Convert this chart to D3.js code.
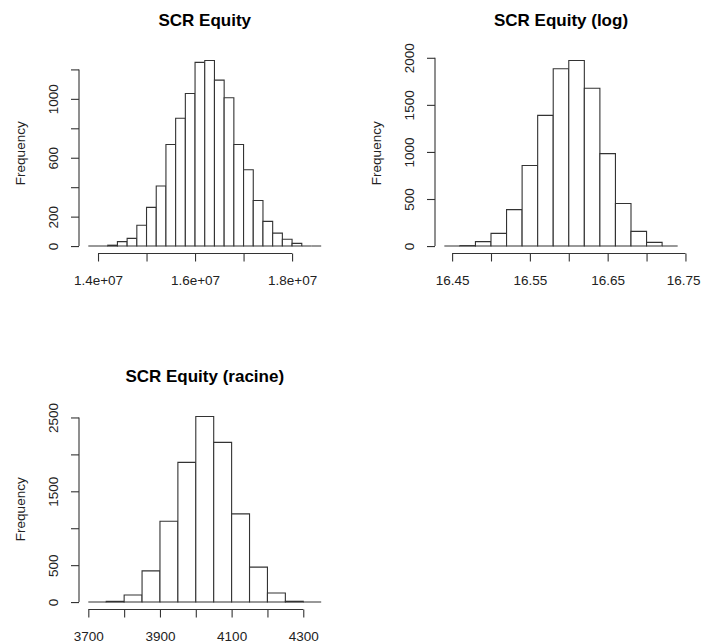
<!DOCTYPE html>
<html>
<head>
<meta charset="utf-8">
<script src="https://cdn.jsdelivr.net/npm/d3@7"></script>
<style>
  html, body { margin: 0; padding: 0; background: #fff; }
  svg { display: block; font-family: "Liberation Sans", Arial, sans-serif; }
</style>
</head>
<body>
<svg id="chart" width="701" height="643"></svg>
<script>
// Histogram of SCR Equity (raw values): breaks every 2e5
const rawBreakStart = 1.38e7;
const rawBreakStep = 2e5;
const rawCounts = [0, 0, 6, 30, 52, 141, 263, 408, 690, 868, 1036, 1248, 1261, 1127, 1007, 690, 518, 310, 168, 88, 46, 18, 0, 0];
const rawTicks = [1.4e7, 1.5e7, 1.6e7, 1.7e7, 1.8e7];
const rawTickLabels = ["1.4e+07", "", "1.6e+07", "", "1.8e+07"];
const rawYTicks = [0, 200, 400, 600, 800, 1000, 1200];
const rawYTickLabels = ["0", "200", "", "600", "", "1000", ""];

// Histogram of log(SCR Equity): breaks every 0.02
const logBreakStart = 16.44;
const logBreakStep = 0.02;
const logCounts = [0, 5, 47, 135, 387, 856, 1388, 1883, 1972, 1677, 982, 452, 156, 39, 0];
const logTicks = [16.45, 16.50, 16.55, 16.60, 16.65, 16.70, 16.75];
const logTickLabels = ["16.45", "", "16.55", "", "16.65", "", "16.75"];
const logYTicks = [0, 500, 1000, 1500, 2000];
const logYTickLabels = ["0", "500", "1000", "1500", "2000"];

// Histogram of sqrt(SCR Equity): breaks every 50
const sqrtBreakStart = 3700;
const sqrtBreakStep = 50;
const sqrtCounts = [0, 10, 95, 423, 1095, 1892, 2514, 2162, 1194, 473, 122, 11, 0];
const sqrtTicks = [3700, 3800, 3900, 4000, 4100, 4200, 4300];
const sqrtTickLabels = ["3700", "", "3900", "", "4100", "", "4300"];
const sqrtYTicks = [0, 500, 1000, 1500, 2000, 2500];
const sqrtYTickLabels = ["0", "500", "", "1500", "", "2500"];

const titles = ["SCR Equity", "SCR Equity (log)", "SCR Equity (racine)"];
const yTitle = "Frequency";

const svg = d3.select("#chart");
const svgWidth = +svg.attr("width");
const lineInk = "#333";
const textInk = "#222";
const tickFont = "13.5px";

// plot regions of the 2x2 grid (fourth cell stays empty)
const panels = [
  { x: 79,  y: 53,  w: 251.5, h: 200.5 },
  { x: 435, y: 53,  w: 252,   h: 200.5 },
  { x: 79,  y: 409, w: 251.5, h: 200.5 }
];

function histogram(panel, title, breakStart, breakStep, counts,
                   xTicks, xTickLabels, yTicks, yTickLabels) {
  const bins = counts.map((c, i) => ({
    x0: breakStart + i * breakStep,
    x1: breakStart + (i + 1) * breakStep,
    count: c
  }));
  const xMin = bins[0].x0, xMax = bins[bins.length - 1].x1;
  const yMax = d3.max(counts);
  // 4% padding on each side of the data range
  const xPad = (xMax - xMin) * 0.04, yPad = yMax * 0.04;

  const x = d3.scaleLinear()
    .domain([xMin - xPad, xMax + xPad])
    .range([panel.x, panel.x + panel.w]);
  const y = d3.scaleLinear()
    .domain([-yPad, yMax + yPad])
    .range([panel.y + panel.h, panel.y]);

  const g = svg.append("g");

  // bars (zero-count bins collapse to a flat line on the baseline)
  g.append("g").selectAll("path")
    .data(bins)
    .join("path")
    .attr("d", d => {
      const a = x(d.x0), b = x(d.x1), y0 = y(0), y1 = y(d.count);
      return `M${a},${y0}V${y1}H${b}V${y0}Z`;
    })
    .attr("fill", "#fff")
    .attr("stroke", lineInk)
    .attr("stroke-width", 1.1);

  // x axis at the bottom edge of the plot region
  const xAxisY = panel.y + panel.h;
  const xAxis = g.append("g")
    .attr("transform", `translate(0,${xAxisY})`)
    .call(d3.axisBottom(x)
      .tickValues(xTicks)
      .tickSize(8)
      .tickSizeOuter(0)
      .tickFormat((d, i) => xTickLabels[i]));
  xAxis.select(".domain").remove();
  xAxis.append("line")
    .attr("x1", x(xTicks[0])).attr("x2", x(xTicks[xTicks.length - 1]))
    .attr("stroke", lineInk).attr("stroke-width", 1.1);
  xAxis.selectAll(".tick line").attr("stroke", lineInk).attr("stroke-width", 1.1);
  xAxis.selectAll(".tick text")
    .attr("y", 31).attr("dy", 0)
    .attr("fill", textInk)
    .style("font-size", tickFont)
    .style("font-family", "Liberation Sans, Arial, sans-serif")
    .each(function(d) {
      // keep a label near the right edge inside the drawing
      const box = this.getBBox();
      const right = x(d) + box.x + box.width;
      if (right > svgWidth - 1) d3.select(this).attr("dx", svgWidth - 1 - right);
    });

  // y axis on the left edge, labels rotated parallel to the axis
  const yAxis = g.append("g")
    .attr("transform", `translate(${panel.x},0)`)
    .call(d3.axisLeft(y)
      .tickValues(yTicks)
      .tickSize(8)
      .tickSizeOuter(0)
      .tickFormat((d, i) => yTickLabels[i]));
  yAxis.select(".domain").remove();
  yAxis.append("line")
    .attr("y1", y(yTicks[0])).attr("y2", y(yTicks[yTicks.length - 1]))
    .attr("stroke", lineInk).attr("stroke-width", 1.1);
  yAxis.selectAll(".tick line").attr("stroke", lineInk).attr("stroke-width", 1.1);
  yAxis.selectAll(".tick text")
    .attr("transform", "rotate(-90)")
    .attr("x", 0).attr("y", -21).attr("dy", 0)
    .attr("text-anchor", "middle")
    .attr("fill", textInk)
    .style("font-size", tickFont)
    .style("font-family", "Liberation Sans, Arial, sans-serif");

  // axis title
  g.append("text")
    .attr("transform", `translate(${panel.x - 54},${panel.y + panel.h / 2}) rotate(-90)`)
    .attr("text-anchor", "middle")
    .attr("fill", textInk)
    .style("font-size", tickFont)
    .text(yTitle);

  // main title
  g.append("text")
    .attr("x", panel.x + panel.w / 2)
    .attr("y", panel.y - 27)
    .attr("text-anchor", "middle")
    .attr("fill", "#000")
    .style("font-size", "17px")
    .style("font-weight", "bold")
    .text(title);
}

histogram(panels[0], titles[0], rawBreakStart, rawBreakStep, rawCounts,
          rawTicks, rawTickLabels, rawYTicks, rawYTickLabels);
histogram(panels[1], titles[1], logBreakStart, logBreakStep, logCounts,
          logTicks, logTickLabels, logYTicks, logYTickLabels);
histogram(panels[2], titles[2], sqrtBreakStart, sqrtBreakStep, sqrtCounts,
          sqrtTicks, sqrtTickLabels, sqrtYTicks, sqrtYTickLabels);
</script>
</body>
</html>
